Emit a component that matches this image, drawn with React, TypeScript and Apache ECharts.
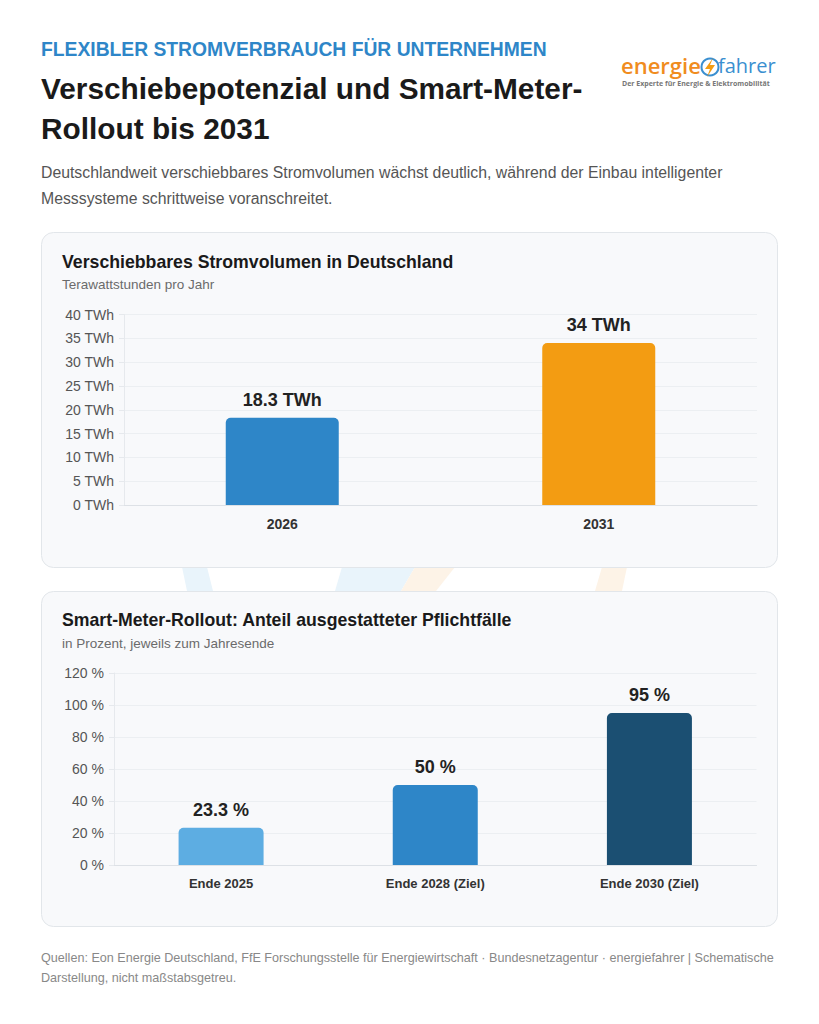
import React, { useEffect, useRef } from "react";
import * as echarts from "echarts";

const years = ["2026", "2031"];
const volumeTWh = [18.3, 34];
const volumeColors = ["#2e86c8", "#f39c12"];
const volumeTicks = { min: 0, max: 40, interval: 5 };

const rolloutCats = ["Ende 2025", "Ende 2028 (Ziel)", "Ende 2030 (Ziel)"];
const rolloutPct = [23.3, 50, 95];
const rolloutColors = ["#5dade2", "#2e86c8", "#1b4f72"];
const rolloutTicks = { min: 0, max: 120, interval: 20 };

const FONT = '"Liberation Sans", Arial, sans-serif';
const LOGO_FONT = '"Open Sans", sans-serif';

function txt(text: string, x: number, y: number, size: number, fill: string, weight: string = "normal", align: string = "left", family: string = FONT) {
  return {
    type: "text",
    z: 6,
    style: {
      text,
      x,
      y,
      fill,
      fontSize: size,
      fontWeight: weight,
      fontFamily: family,
      textAlign: align,
      textVerticalAlign: "middle",
    },
  };
}

export default function App() {
  const ref = useRef<HTMLDivElement>(null);
  useEffect(() => {
    if (!ref.current) return;
    const chart = echarts.init(ref.current, undefined, { renderer: "svg" });
    const axisLabel = { color: "#555", fontSize: 14, fontFamily: FONT };
    const catLabel = { color: "#333", fontSize: 14, fontWeight: "bold", fontFamily: FONT, margin: 12 };
    const wm = (pts: number[][], fill: string) => ({ type: "polygon", z: 0, shape: { points: pts }, style: { fill } });
    chart.setOption({
      animation: false,
      backgroundColor: "#ffffff",
      graphic: [
        wm([[182, 567], [207, 567], [213, 591], [187, 591]], "#e9f4fb"),
        wm([[342, 567], [415, 567], [401, 591], [335, 591]], "#e9f4fb"),
        wm([[415, 567], [455, 567], [436, 591], [401, 591]], "#fdf3e7"),
        wm([[602, 567], [627, 567], [622, 591], [595, 591]], "#fdf3e7"),
        { type: "rect", z: 1, shape: { x: 41.5, y: 232.5, width: 736, height: 335, r: 12 }, style: { fill: "#f8f9fb", stroke: "#e2e6ea", lineWidth: 1 } },
        { type: "rect", z: 1, shape: { x: 41.5, y: 591.5, width: 736, height: 335, r: 12 }, style: { fill: "#f8f9fb", stroke: "#e2e6ea", lineWidth: 1 } },
        txt("FLEXIBLER STROMVERBRAUCH FÜR UNTERNEHMEN", 41, 49, 19.3, "#2e86c8", "bold"),
        txt("Verschiebepotenzial und Smart-Meter-", 41, 88, 29.8, "#1a1a1a", "bold"),
        txt("Rollout bis 2031", 41, 128, 29.8, "#1a1a1a", "bold"),
        txt("Deutschlandweit verschiebbares Stromvolumen wächst deutlich, während der Einbau intelligenter", 41, 172, 15.8, "#555555"),
        txt("Messsysteme schrittweise voranschreitet.", 41, 198, 15.8, "#555555"),
        txt("Verschiebbares Stromvolumen in Deutschland", 62, 262, 17.7, "#1a1a1a", "bold"),
        txt("Terawattstunden pro Jahr", 62, 284, 13.5, "#6b6b6b"),
        txt("Smart-Meter-Rollout: Anteil ausgestatteter Pflichtfälle", 62, 620, 17.7, "#1a1a1a", "bold"),
        txt("in Prozent, jeweils zum Jahresende", 62, 643, 13.5, "#6b6b6b"),
        txt("Quellen: Eon Energie Deutschland, FfE Forschungsstelle für Energiewirtschaft · Bundesnetzagentur · energiefahrer | Schematische", 41, 958, 12.6, "#888888"),
        txt("Darstellung, nicht maßstabsgetreu.", 41, 978, 12.6, "#888888"),
        // logo
        txt("energie", 621, 65, 22, "#f08c1e", "600", "left", LOGO_FONT),
        txt("fahrer", 718, 65, 20, "#3a8fd0", "normal", "left", LOGO_FONT),
        { type: "circle", z: 6, shape: { cx: 710, cy: 67, r: 8.5 }, style: { fill: "none", stroke: "#3a8fd0", lineWidth: 2 } },
        { type: "polygon", z: 7, shape: { points: [[713, 58], [705, 69], [710, 69], [707, 77], [715, 65], [710, 65]] }, style: { fill: "#f39c12" } },
        txt("Der Experte für Energie & Elektromobilität", 622, 83.5, 7, "#777777", "bold", "left", LOGO_FONT),
      ],
      grid: [
        { left: 124, top: 314.5, width: 633, height: 190.5, containLabel: false },
        { left: 114, top: 673, width: 642.5, height: 192, containLabel: false },
      ],
      xAxis: [
        {
          gridIndex: 0, type: "category", data: years, z: 3,
          axisLine: { lineStyle: { color: "#dde1e6" } }, axisTick: { show: false },
          axisLabel: catLabel,
        },
        {
          gridIndex: 1, type: "category", data: rolloutCats, z: 3,
          axisLine: { lineStyle: { color: "#dde1e6" } }, axisTick: { show: false },
          axisLabel: { ...catLabel, fontSize: 13 },
        },
      ],
      yAxis: [
        {
          gridIndex: 0, type: "value", ...volumeTicks, z: 3,
          axisLine: { show: true, lineStyle: { color: "#e6e9ed" } },
          axisTick: { show: true, length: 5, lineStyle: { color: "#e6e9ed" } },
          splitLine: { lineStyle: { color: "#eceff2" } },
          axisLabel: { ...axisLabel, margin: 10, formatter: "{value} TWh" },
        },
        {
          gridIndex: 1, type: "value", ...rolloutTicks, z: 3,
          axisLine: { show: true, lineStyle: { color: "#e6e9ed" } },
          axisTick: { show: true, length: 5, lineStyle: { color: "#e6e9ed" } },
          splitLine: { lineStyle: { color: "#eceff2" } },
          axisLabel: { ...axisLabel, margin: 10, formatter: "{value} %" },
        },
      ],
      series: [
        {
          type: "bar", xAxisIndex: 0, yAxisIndex: 0, z: 4, barWidth: 113,
          data: volumeTWh.map((v, i) => ({ value: v, itemStyle: { color: volumeColors[i], borderRadius: [5, 5, 0, 0] } })),
          label: { show: true, position: "top", distance: 9, formatter: "{c} TWh", fontSize: 18, fontWeight: "bold", color: "#222", fontFamily: FONT },
        },
        {
          type: "bar", xAxisIndex: 1, yAxisIndex: 1, z: 4, barWidth: 85,
          data: rolloutPct.map((v, i) => ({ value: v, itemStyle: { color: rolloutColors[i], borderRadius: [5, 5, 0, 0] } })),
          label: { show: true, position: "top", distance: 9, formatter: "{c} %", fontSize: 18, fontWeight: "bold", color: "#222", fontFamily: FONT },
        },
      ],
    });
    return () => chart.dispose();
  }, []);
  return <div ref={ref} style={{ position: "absolute", left: 0, top: 0, width: 819, height: 1024 }} />;
}
